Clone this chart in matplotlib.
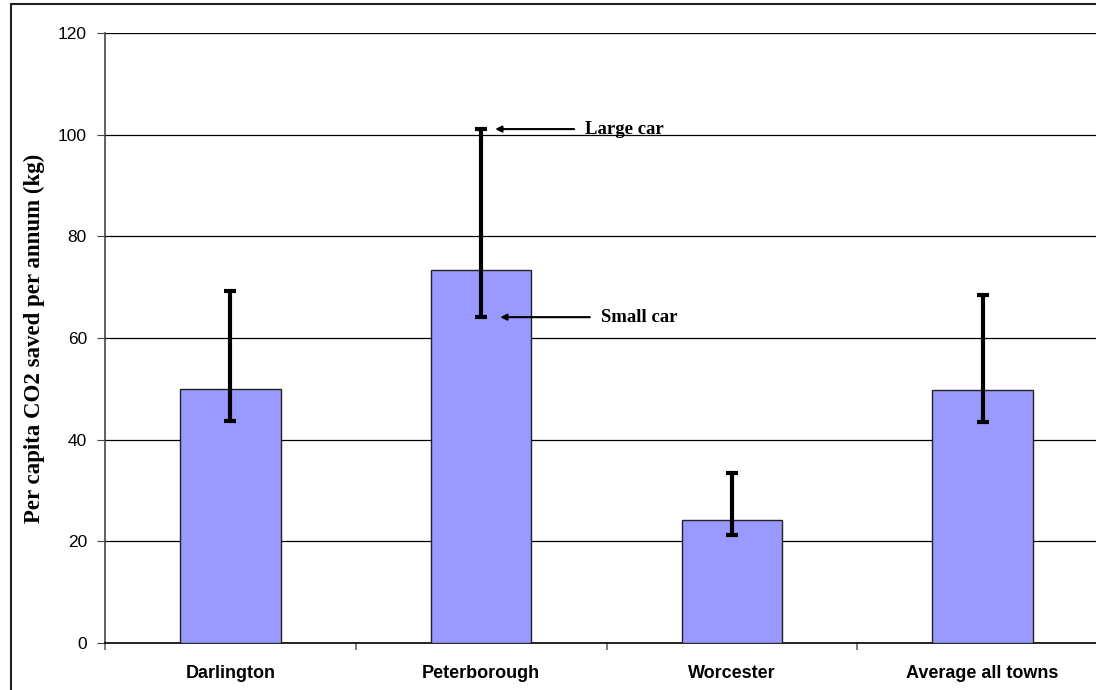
import matplotlib
matplotlib.use('Agg')
import matplotlib.pyplot as plt
from matplotlib.patches import Rectangle
import numpy as np

# ---------------------- data -------------------------
towns     = ['Darlington', 'Peterborough', 'Worcester', 'Average all towns']
saving    = [50.0, 73.3, 24.2, 49.7]     # bar height (kg)
small_car = [43.7, 64.1, 21.2, 43.5]     # lower end of range
large_car = [69.2, 101.1, 33.5, 68.5]    # upper end of range

W, H = 1096, 690
fig = plt.figure(figsize=(W/100, H/100), dpi=100)
fig.patch.set_facecolor('white')

# plot area runs off the right edge of the picture (cropped)
left, right, top, bottom = 105, 1108, 33, 643
ax = fig.add_axes([left/W, 1-bottom/H, (right-left)/W, (bottom-top)/H])

x = np.arange(len(towns))
ax.bar(x, saving, width=0.4, color='#9999FF', edgecolor='#222222', linewidth=1, zorder=3)

lo = np.array(saving) - np.array(small_car)
hi = np.array(large_car) - np.array(saving)
ax.errorbar(x, saving, yerr=[lo, hi], fmt='none', ecolor='black', elinewidth=3,
            capsize=4.5, capthick=3, zorder=4)

ax.set_xlim(-0.5, 3.5)
ax.set_ylim(0, 120)
ax.set_yticks(np.arange(0, 121, 20))
ax.yaxis.grid(True, color='black', linewidth=0.9, zorder=0)
ax.set_axisbelow(True)

ax.set_xticks(np.arange(-0.5, 3.6, 1.0))
ax.set_xticklabels([])
ax.set_xticks(x, minor=True)
ax.set_xticklabels(towns, minor=True, fontfamily='Liberation Sans', fontweight='bold', fontsize=13)
ax.tick_params(axis='x', which='minor', length=0, pad=16)
ax.tick_params(axis='x', which='major', length=5, color='#666666', width=1.2)
ax.tick_params(axis='y', length=6, color='#444444', labelsize=12.5, pad=7)
for t in ax.get_yticklabels():
    t.set_fontfamily('Liberation Sans')

ax.spines['top'].set_visible(False)
ax.spines['right'].set_visible(False)
ax.spines['left'].set_color('#444444')
ax.spines['bottom'].set_color('black')
ax.spines['left'].set_linewidth(1.2)
ax.spines['bottom'].set_linewidth(1.2)

ax.set_ylabel('Per capita CO2 saved per annum (kg)', fontfamily='Liberation Serif',
              fontweight='bold', fontsize=16.5, labelpad=9)

# ---------------------- annotations -------------------------
arr = dict(arrowstyle='-|>', color='black', lw=1.5, mutation_scale=9, shrinkA=6, shrinkB=0)
ax.annotate('Large car', xy=(1.056, large_car[1]), xytext=(1.415, large_car[1]),
            va='center', ha='left', fontfamily='Liberation Serif', fontweight='bold',
            fontsize=13.5, arrowprops=arr)
ax.annotate('Small car', xy=(1.076, small_car[1]), xytext=(1.478, small_car[1]),
            va='center', ha='left', fontfamily='Liberation Serif', fontweight='bold',
            fontsize=13.5, arrowprops=arr)

# outer chart border (cropped at right and bottom)
fig.add_artist(Rectangle((11/W, -0.2), 1.2, 1.2 - 4/H, transform=fig.transFigure,
                         fill=False, edgecolor='#222222', linewidth=1.5))

fig.savefig('out.png', dpi=100)
